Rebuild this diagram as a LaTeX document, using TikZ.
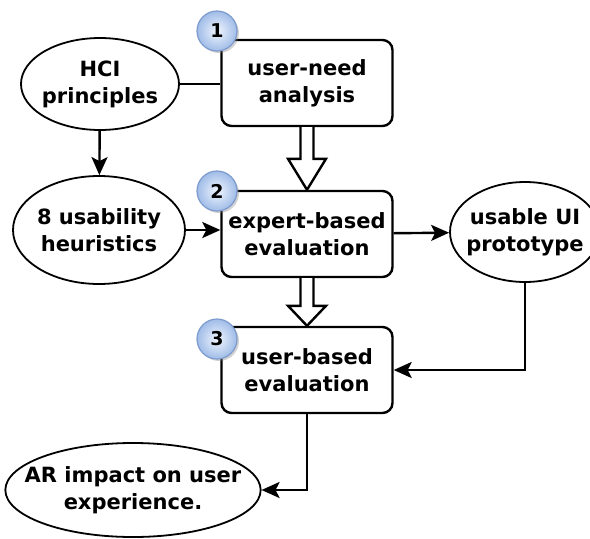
\documentclass[tikz,border=0pt]{standalone}
\usepackage{fontspec}
\setmainfont{DejaVu Sans}
\usetikzlibrary{arrows.meta, calc, shapes.geometric, shadows}

\definecolor{badgein}{RGB}{240,245,253}
\definecolor{badgeout}{RGB}{160,188,232}
\definecolor{badgeline}{RGB}{125,155,205}

\tikzset{
	stepbox/.style={draw, line width=2.4pt, rounded corners=10pt, minimum width=171pt, minimum height=86pt, inner sep=0pt, align=center, font=\bfseries\fontsize{21}{27}\selectfont},
	oval/.style={draw, ellipse, line width=1.8pt, inner xsep=-18pt, inner ysep=0pt, align=center, font=\bfseries\fontsize{21}{27}\selectfont},
	badge/.style={circle, draw=badgeline, line width=1.2pt, inner color=badgein, outer color=badgeout, minimum size=40pt, inner sep=0pt, drop shadow={shadow xshift=2pt, shadow yshift=-2pt, opacity=0.35}, font=\bfseries\fontsize{19}{19}\selectfont},
	link/.style={line width=2.4pt, -{Stealth[length=18pt, width=16pt, inset=4pt]}},
	plain/.style={line width=2.4pt},
}

% hollow arrow from #1 down to #2, head length #3
\newcommand{\fatarrow}[3]{%
	\draw[line width=2.4pt, fill=white, line join=miter]
		($(#1.south)+(-6.5,0)$) -- ($(#2.north)+(-6.5,-#3)$) -- ($(#2.north)+(-19,-#3)$) -- (#2.north)
		-- ($(#2.north)+(19,-#3)$) -- ($(#2.north)+(6.5,-#3)$) -- ($(#1.south)+(6.5,0)$);}

\begin{document}
\begin{tikzpicture}[x=1pt, y=-1pt]
	\useasboundingbox (0,0) rectangle (590,539);
	\fill[white] (0,0) rectangle (590,539);

	% the three steps
	\node[stepbox] (needs) at (307,83) {user-need\\analysis};
	\node[stepbox] (expert) at (307,234) {expert-based\\evaluation};
	\node[stepbox] (users) at (307,370) {user-based\\evaluation};

	% inputs and outputs
	\node[oval, minimum width=158pt, minimum height=92pt] (hci) at (100,84) {HCI\\principles};
	\node[oval, minimum width=172pt, minimum height=108pt] (heur) at (99,230) {8 usability\\heuristics};
	\node[oval, minimum width=150pt, minimum height=100pt] (proto) at (525,232) {usable UI\\prototype};
	\node[oval, minimum width=236pt, minimum height=94pt] (impact) at (133,490) {AR impact on user\\experience.};

	\fatarrow{needs}{expert}{31}
	\fatarrow{expert}{users}{20}

	\draw[plain] (hci.east) -- (hci.east -| needs.west);
	\draw[link] (hci) -- (heur);
	\draw[link] (heur.east) -- (heur.east -| expert.west);
	\draw[link] (expert) -- (proto);
	\draw[link] (proto.south) |- (users.east);
	\draw[link] (users.south) |- (impact.east);

	% step numbers
	\node[badge] (b1) at (217,31) {1};
	\node[badge] (b2) at (217,191) {2};
	\node[badge] (b3) at (217,339) {3};
\end{tikzpicture}
\end{document}
